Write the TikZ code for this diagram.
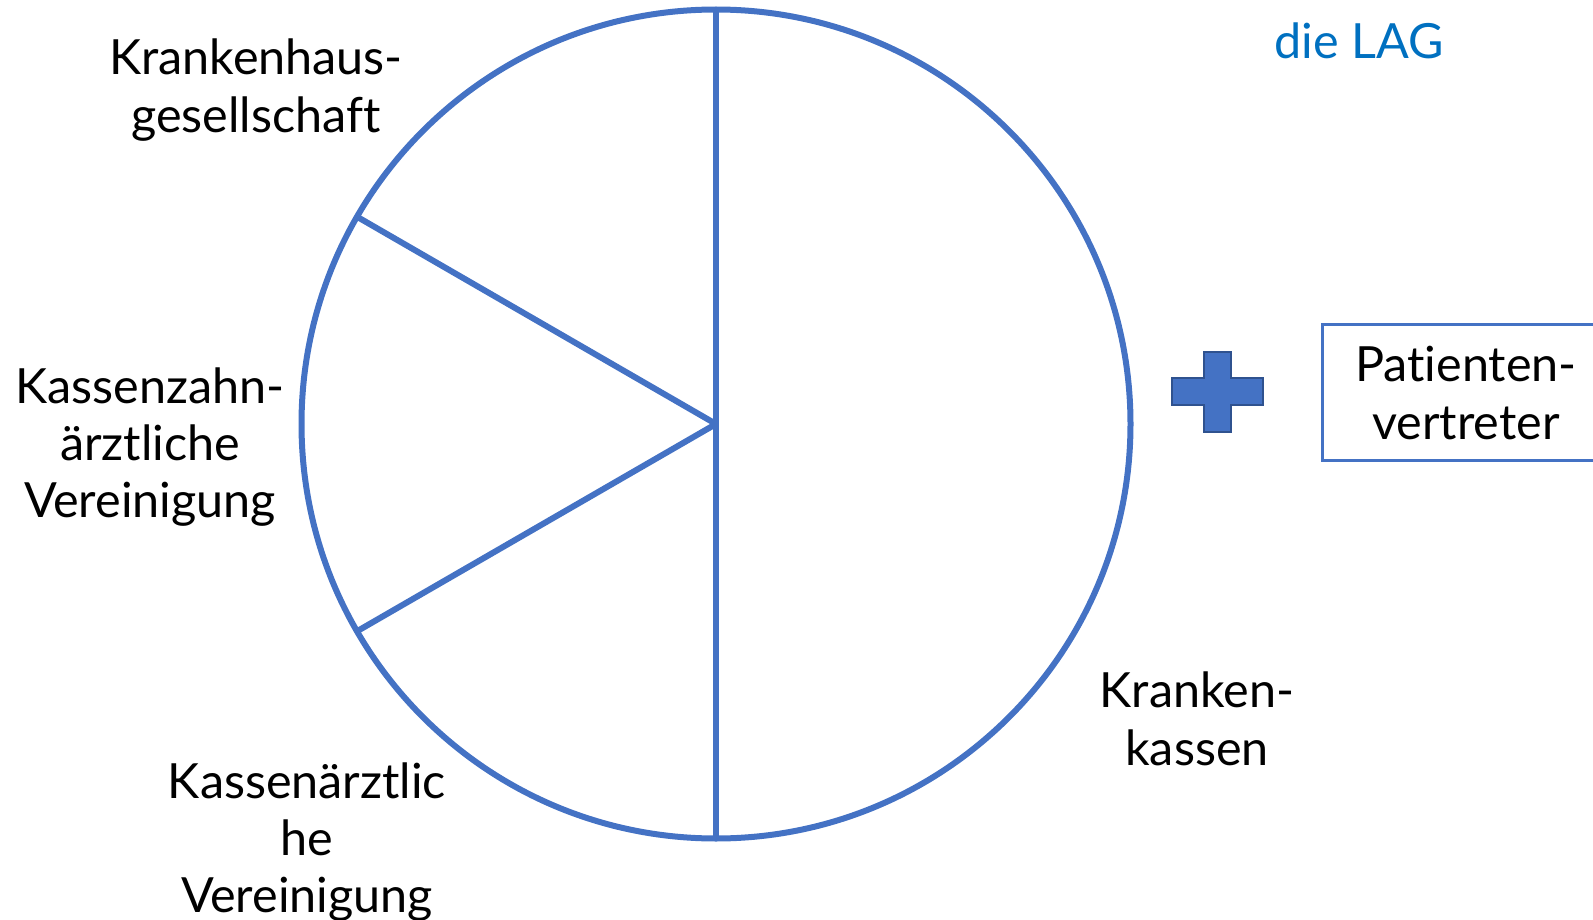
\documentclass[tikz,border=0pt]{standalone}
\usepackage{fontspec}
\setmainfont[Ligatures=NoCommon]{Lato}
\usetikzlibrary{calc}
\definecolor{pieblue}{HTML}{4472C4}
\definecolor{plusedge}{HTML}{2F528F}
\definecolor{lagblue}{HTML}{0070C0}
\begin{document}
\begin{tikzpicture}[x=1pt,y=-1pt,
  lbl/.style={font=\fontsize{48.5}{57.4}\selectfont, align=center, inner sep=0pt, text=black},
  pie/.style={draw=pieblue, line width=6pt}]
\useasboundingbox (0,0) rectangle (1593,920);
\coordinate (c) at (716,424);
\draw[pie] (c) circle[radius=414.5];
\coordinate (top) at (716,9);
\coordinate (bot) at (716,839);
\coordinate (s1) at ($(c)+(150:414.5)$);
\coordinate (s2) at ($(c)+(210:414.5)$);
\draw[pie] (top) -- (bot);
\draw[pie] (c) -- (s1);
\draw[pie] (c) -- (s2);
% plus sign
\fill[pieblue, draw=plusedge, line width=1.5pt]
  (1204,352) -- (1231,352) -- (1231,378) -- (1263,378) -- (1263,405) -- (1231,405)
  -- (1231,432) -- (1204,432) -- (1204,405) -- (1172,405) -- (1172,378) -- (1204,378) -- cycle;
% patient box
\draw[draw=pieblue, line width=3pt] (1630,324) -- (1322,324) -- (1322,460) -- (1630,460);
\node[lbl] (pat) at (1466,393) {Patienten-\\vertreter};
\node[lbl] (kh) at (256,90) {Krankenhaus-\\gesellschaft};
\node[lbl] (kzv) at (150,447) {Kassenzahn-\\ärztliche\\Vereinigung};
\node[lbl] (kv) at (307,842) {Kassenärztlic\\he\\Vereinigung};
\node[lbl] (kk) at (1197,719) {Kranken-\\kassen};
\node[lbl, text=lagblue] (lag) at (1359,41) {die LAG};
\end{tikzpicture}
\end{document}
